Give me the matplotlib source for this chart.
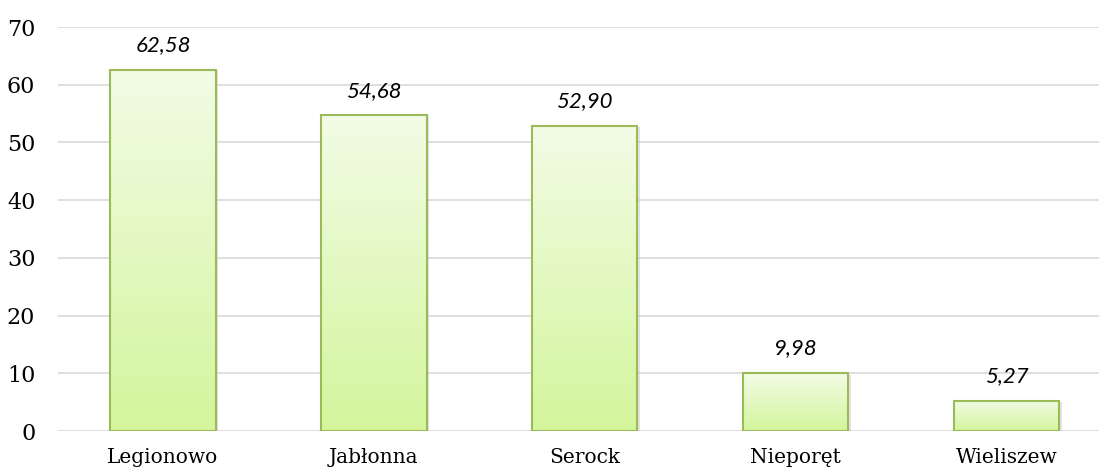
import matplotlib.pyplot as plt
import numpy as np
from matplotlib.colors import LinearSegmentedColormap

categories = ["Legionowo", "Jabłonna", "Serock", "Nieporęt", "Wieliszew"]
values = [62.58, 54.68, 52.90, 9.98, 5.27]
labels = ["62,58", "54,68", "52,90", "9,98", "5,27"]
yticks = [0, 10, 20, 30, 40, 50, 60, 70]

fig = plt.figure(figsize=(10.99, 4.72), dpi=100)
ax = fig.add_axes([57.5 / 1099, 1 - 431 / 472, 1 - 57.5 / 1099, (431 - 27) / 472])

x = np.arange(len(categories))
width = 0.5
cmap = LinearSegmentedColormap.from_list("g", ["#d4f59c", "#f2fce6"])
grad = np.linspace(0, 1, 256).reshape(-1, 1)

for xi, v in zip(x, values):
    # soft shadow
    ax.bar(xi + 0.012, v, width, bottom=-0.25, color="#c8c8c8", alpha=0.5, zorder=2, linewidth=0)
    bar = ax.bar(xi, v, width, color="none", edgecolor="#9bbb59", linewidth=1.5, zorder=4)[0]
    im = ax.imshow(grad, cmap=cmap, origin="lower", aspect="auto",
                   extent=(xi - width / 2, xi + width / 2, 0, v), zorder=3)
    im.set_clip_path(bar)

for xi, v, lab in zip(x, values, labels):
    ax.text(xi, v + 4.3, lab, ha="center", va="center", fontsize=16,
            family="Lato", style="italic", color="#000000")

ax.set_xlim(-0.5, 4.5 - 13 / 211)
ax.set_ylim(0, 70)
ax.set_yticks(yticks)
ax.set_xticks(x)
ax.set_xticklabels(categories)
ax.grid(axis="y", color="#d9d9d9", linewidth=1.2, zorder=0)
ax.set_axisbelow(True)
for s in ax.spines.values():
    s.set_visible(False)
ax.tick_params(length=0)
ax.tick_params(axis="y", pad=16)
ax.tick_params(axis="x", pad=12)
for t in ax.get_xticklabels():
    t.set_family("DejaVu Serif")
    t.set_fontsize(14.5)
for t in ax.get_yticklabels():
    t.set_family("DejaVu Serif")
    t.set_fontsize(16)

fig.savefig("out.png", dpi=100)
